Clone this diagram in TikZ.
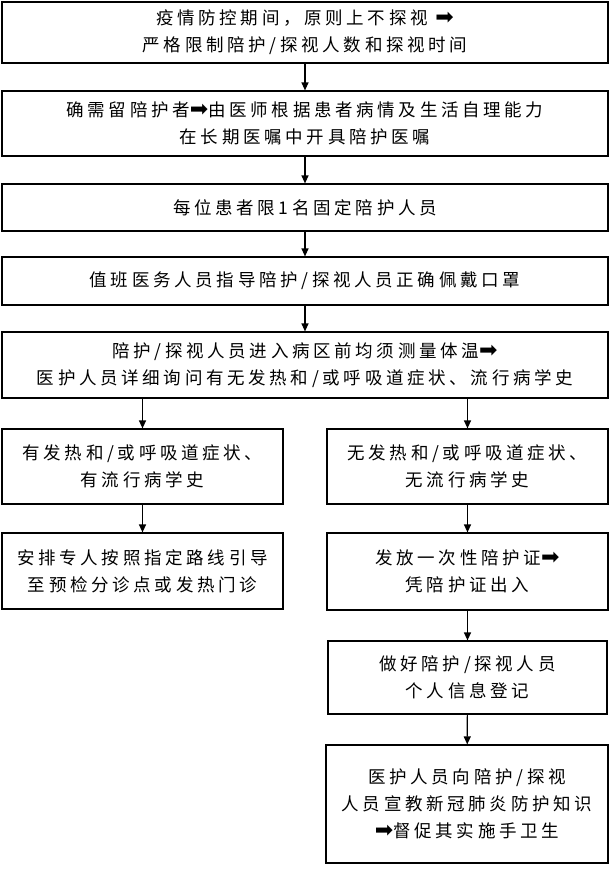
\documentclass[tikz,border=0pt]{standalone}
\usepackage{fontspec}
\setmainfont{Noto Sans CJK SC}[LetterSpace=21]
\newfontfamily\dvfont{DejaVu Sans}
\newcommand\rar{{\dvfont\fontsize{22}{27}\selectfont ➡}}
\usetikzlibrary{arrows.meta}
\begin{document}
\begin{tikzpicture}[x=1pt,y=-1pt,
  box/.style={draw,line width=1.2pt,inner sep=0pt,align=center,
    font=\fontsize{17.5}{27}\selectfont},
  arr/.style={line width=1.2pt,-{Triangle[length=8pt,width=7pt]}}]
\useasboundingbox (0,0) rectangle (610,871);
\fill[white] (0,0) rectangle (610,871);
\node[box,minimum width=606pt,minimum height=61pt] (b1) at (305,32.5)
  {疫情防控期间，原则上不探视 \rar\\严格限制陪护/探视人数和探视时间};
\node[box,minimum width=606pt,minimum height=65pt] (b2) at (305,123.5)
  {确需留陪护者\rar 由医师根据患者病情及生活自理能力\\在长期医嘱中开具陪护医嘱};
\node[box,minimum width=606pt,minimum height=47pt] (b3) at (305,207.5)
  {每位患者限1名固定陪护人员};
\node[box,minimum width=606pt,minimum height=48pt] (b4) at (305,281)
  {值班医务人员指导陪护/探视人员正确佩戴口罩};
\node[box,minimum width=606pt,minimum height=66pt] (b5) at (305,365)
  {陪护/探视人员进入病区前均须测量体温\rar\\医护人员详细询问有无发热和/或呼吸道症状、流行病学史};
\node[box,minimum width=281pt,minimum height=75pt] (l1) at (142.5,466.5)
  {有发热和/或呼吸道症状、\\有流行病学史};
\node[box,minimum width=281pt,minimum height=75pt] (r1) at (467.5,466.5)
  {无发热和/或呼吸道症状、\\无流行病学史};
\node[box,minimum width=281pt,minimum height=76pt] (l2) at (142.5,571)
  {安排专人按照指定路线引导\\至预检分诊点或发热门诊};
\node[box,minimum width=281pt,minimum height=77pt] (r2) at (467.5,571.5)
  {发放一次性陪护证\rar\\凭陪护证出入};
\node[box,minimum width=279pt,minimum height=73pt] (r3) at (467.5,677.5)
  {做好陪护/探视人员\\个人信息登记};
\node[box,minimum width=282pt,minimum height=118pt] (r4) at (467,804)
  {医护人员向陪护/探视\\人员宣教新冠肺炎防护知识\\\rar 督促其实施手卫生};
\draw[arr] (b1) -- (b2);
\draw[arr] (b2) -- (b3);
\draw[arr] (b3) -- (b4);
\draw[arr] (b4) -- (b5);
\draw[arr] (b5.south -| l1.north) -- (l1.north);
\draw[arr] (b5.south -| r1.north) -- (r1.north);
\draw[arr] (l1) -- (l2);
\draw[arr] (r1) -- (r2);
\draw[arr] (r2) -- (r3);
\draw[arr] (r3) -- (r4);
\end{tikzpicture}
\end{document}
